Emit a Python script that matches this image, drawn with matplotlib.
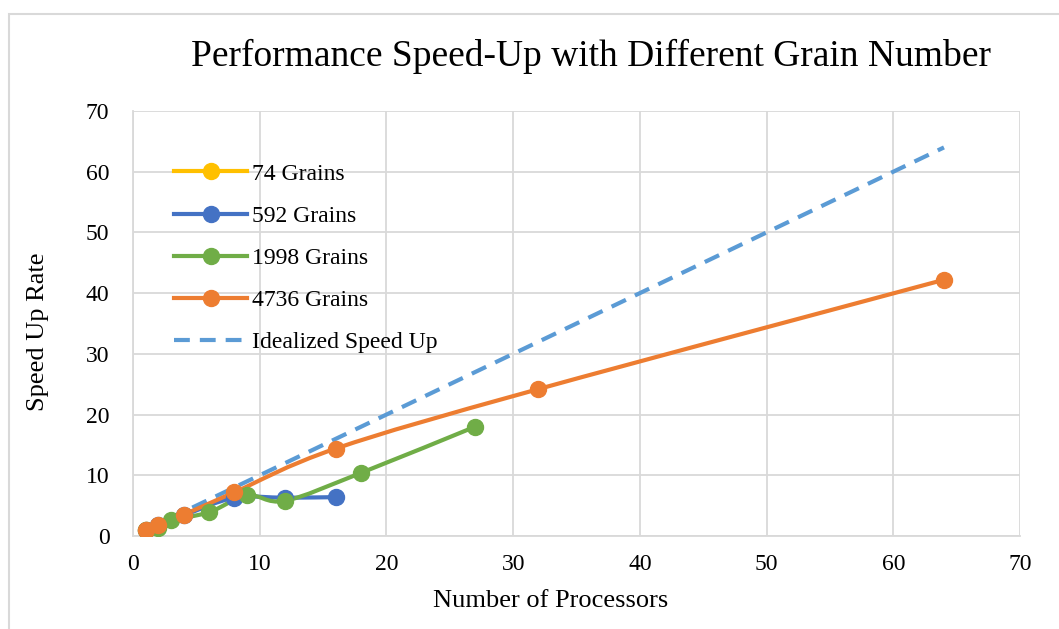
import numpy as np
import matplotlib.pyplot as plt
from matplotlib.path import Path
from matplotlib.patches import PathPatch, Rectangle
from matplotlib.lines import Line2D

plt.rcParams['font.family'] = ['Liberation Serif', 'DejaVu Serif']

# speed-up measurements per grain count
procs_74 = [1, 2]
speedup_74 = [1.0, 1.7]

procs_592 = [1, 2, 4, 8, 12, 16]
speedup_592 = [1.0, 1.8, 3.4, 6.3, 6.3, 6.4]

procs_1998 = [1, 2, 3, 6, 9, 12, 18, 27]
speedup_1998 = [1.0, 1.3, 2.6, 3.9, 6.7, 5.8, 10.4, 18.0]

procs_4736 = [1, 2, 4, 8, 16, 32, 64]
speedup_4736 = [1.0, 1.8, 3.5, 7.2, 14.4, 24.2, 42.2]

procs_ideal = [1, 64]
speedup_ideal = [1, 64]

labels = ['74 Grains', '592 Grains', '1998 Grains', '4736 Grains', 'Idealized Speed Up']
colors = ['#FFC000', '#4472C4', '#70AD47', '#ED7D31', '#5B9BD5']
ideal_dash = (3.8, 2.4)


def smooth_path(x, y):
    # Catmull-Rom style bezier, like spreadsheet "smoothed line"
    pts = np.column_stack([x, y]).astype(float)
    verts = [pts[0]]
    codes = [Path.MOVETO]
    n = len(pts)
    for i in range(n - 1):
        p0 = pts[i - 1] if i > 0 else pts[i]
        p1 = pts[i]
        p2 = pts[i + 1]
        p3 = pts[i + 2] if i + 2 < n else pts[i + 1]
        c1 = p1 + (p2 - p0) / 6.0
        c2 = p2 - (p3 - p1) / 6.0
        verts += [c1, c2, p2]
        codes += [Path.CURVE4] * 3
    return Path(verts, codes)


fig = plt.figure(figsize=(10.59, 6.29), dpi=100)
fig.patches.append(Rectangle((9 / 1059, -0.01), 1.1, 1 - 14 / 629 + 0.01,
                             transform=fig.transFigure, fill=False,
                             edgecolor='#d9d9d9', linewidth=1.5))
ax = fig.add_axes([133 / 1059, 1 - 536 / 629, (1020 - 133) / 1059, (536 - 111) / 629])

series = [(procs_74, speedup_74), (procs_592, speedup_592),
          (procs_1998, speedup_1998), (procs_4736, speedup_4736)]
for (xs, ys), c in zip(series, colors[:4]):
    ax.add_patch(PathPatch(smooth_path(xs, ys), fill=False, edgecolor=c,
                           linewidth=3, capstyle='round', zorder=3))
    ax.plot(xs, ys, linestyle='none', marker='o', markersize=11.5, color=c, zorder=4)

ax.plot(procs_ideal, speedup_ideal, color=colors[4], linewidth=3,
        dashes=ideal_dash, zorder=2)

ax.set_xlim(0, 70)
ax.set_ylim(0, 70)
ax.set_xticks(range(0, 71, 10))
ax.set_yticks(range(0, 71, 10))
ax.grid(True, color='#d9d9d9', linewidth=1.3)
ax.set_axisbelow(True)
for s in ['top', 'right']:
    ax.spines[s].set_visible(False)
ax.spines['left'].set_color('#d9d9d9')
ax.spines['bottom'].set_color('#d9d9d9')
ax.spines['left'].set_linewidth(1.3)
ax.spines['bottom'].set_linewidth(1.3)
ax.tick_params(axis='y', length=0, labelsize=17, pad=17)
ax.tick_params(axis='x', length=0, labelsize=17, pad=13)

handles = []
for lab, c in zip(labels[:4], colors[:4]):
    handles.append(Line2D([], [], color=c, linewidth=3, marker='o', markersize=11.5))
handles.append(Line2D([], [], color=colors[4], linewidth=3, dashes=ideal_dash))
ax.legend(handles, labels, loc='upper left', bbox_to_anchor=(0.033, 0.905),
          frameon=False, fontsize=17, handlelength=3.1, handletextpad=0.2,
          labelspacing=0.87, borderpad=0)

fig.text(591 / 1059, 1 - 56 / 629, 'Performance Speed-Up with Different Grain Number',
         ha='center', va='center', fontsize=27)
fig.text(551 / 1059, 1 - 601 / 629, 'Number of Processors', ha='center', va='center',
         fontsize=19)
fig.text(38 / 1059, 1 - 332 / 629, 'Speed Up Rate', ha='center', va='center',
         fontsize=19, rotation=90)

fig.savefig('out.png', dpi=100)
